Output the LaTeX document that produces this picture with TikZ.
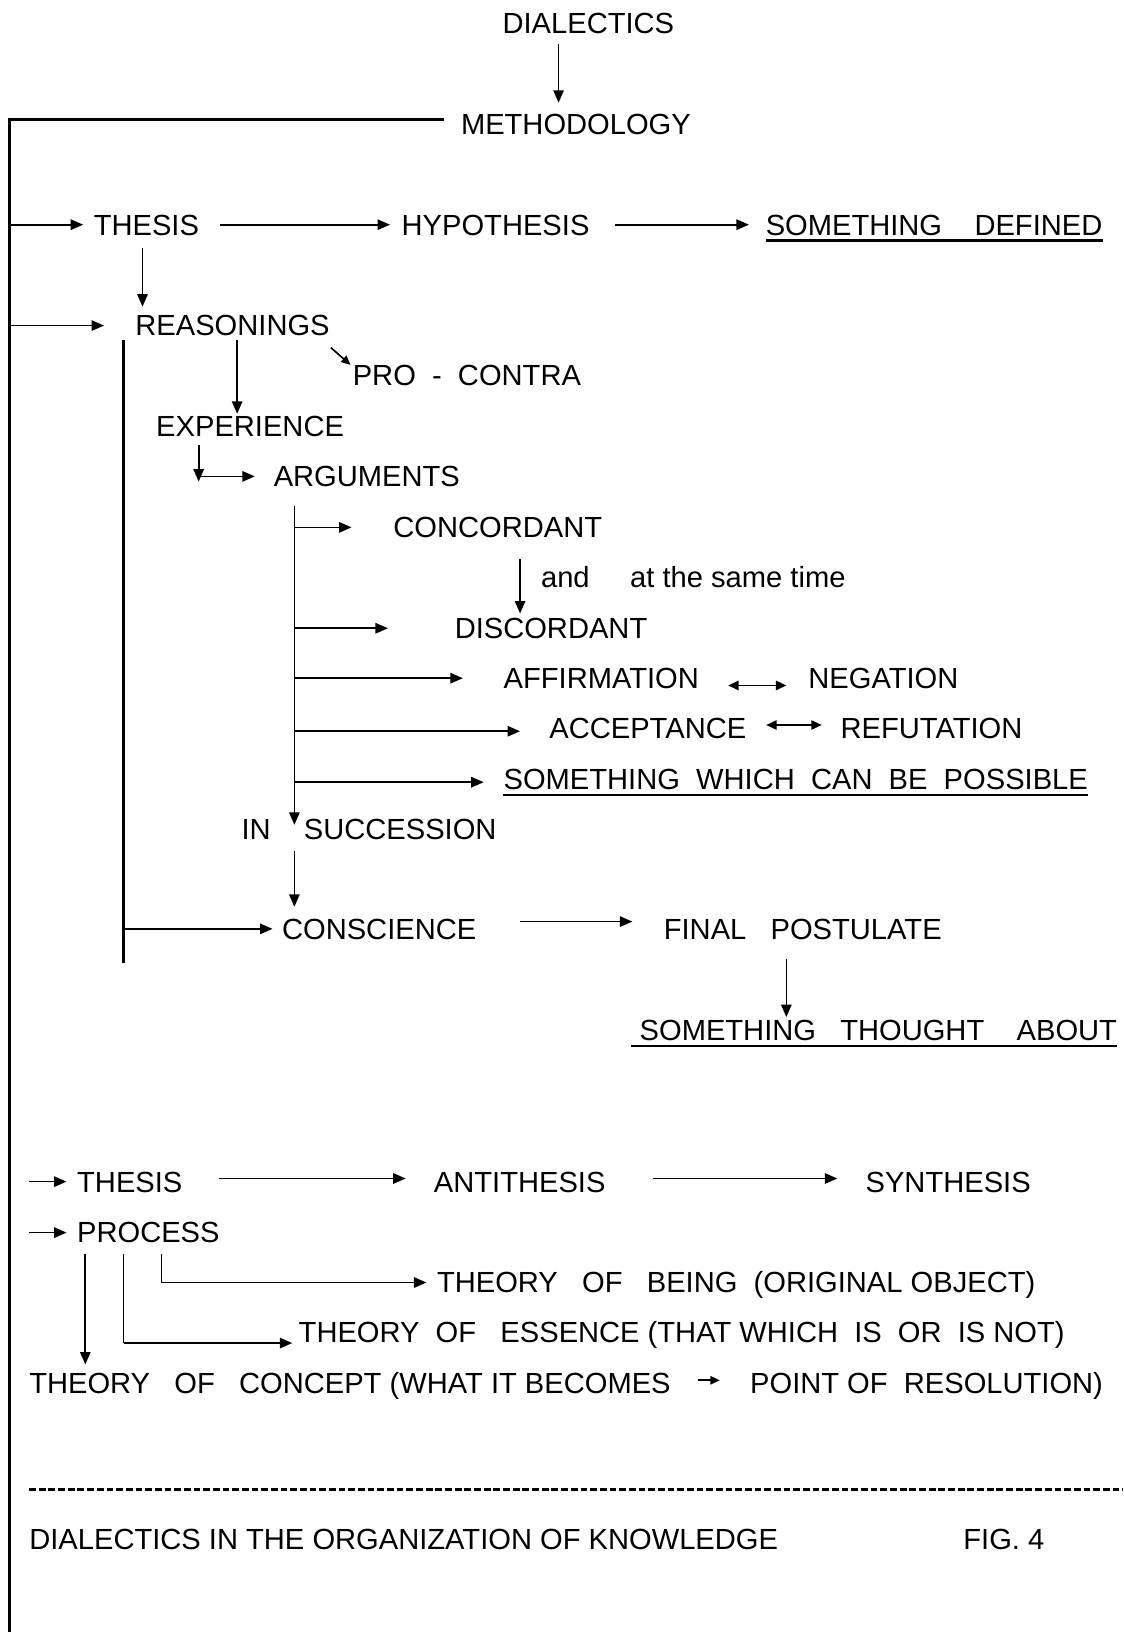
\documentclass[tikz,border=0pt]{standalone}
\usepackage{fontspec}
\setmainfont{Liberation Sans}
\usetikzlibrary{arrows.meta}

\begin{document}
\begin{tikzpicture}[x=1pt,y=-1pt,
    txt/.style={anchor=base west,inner sep=0pt,text height=20pt,text depth=0pt,font=\fontsize{28}{34}\selectfont},
    arr/.style={-{Triangle[length=12pt,width=10pt]},line width=1.6pt},
    smallarr/.style={-{Triangle[length=9pt,width=8pt]},line width=1.6pt},
    dbl/.style={{Triangle[length=10pt,width=9pt]}-{Triangle[length=10pt,width=9pt]},line width=1.6pt},
    heavy/.style={line width=2.5pt},
    fine/.style={line width=1pt},
    uline/.style={line width=2pt}]
    \useasboundingbox (0,0) rectangle (1080,1569);

    \node[txt] (dial)     at (483,32)   {DIALECTICS};
    \node[txt] (meth)     at (443,129)  {METHODOLOGY};
    \node[txt] (thesis_1) at (90,226)   {THESIS};
    \node[txt] (hyp)      at (386,226)  {HYPOTHESIS};
    \node[txt] (defined)  at (736,226)  {SOMETHING~~~~DEFINED};
    \node[txt] (reas)     at (130,323)  {REASONINGS};
    \node[txt] (pro)      at (339,371)  {PRO~~-~~CONTRA};
    \node[txt] (exper)    at (150,420)  {EXPERIENCE};
    \node[txt] (args)     at (263,468)  {ARGUMENTS};
    \node[txt] (concord)  at (378,517)  {CONCORDANT};
    \node[txt] (andtime)  at (520,565)  {and\hspace*{39pt}at the same time};
    \node[txt] (discord)  at (437,614)  {DISCORDANT};
    \node[txt] (affirm)   at (484,662)  {AFFIRMATION};
    \node[txt] (negat)    at (777,662)  {NEGATION};
    \node[txt] (accept)   at (528,710)  {ACCEPTANCE};
    \node[txt] (refut)    at (808,710)  {REFUTATION};
    \node[txt] (possible) at (484,759)  {SOMETHING~~WHICH~~CAN~~BE~~POSSIBLE};
    \node[txt] (in)       at (232,807)  {IN};
    \node[txt] (succ)     at (292,807)  {SUCCESSION};
    \node[txt] (consc)    at (271,903)  {CONSCIENCE};
    \node[txt] (postul)   at (638,903)  {FINAL~~~POSTULATE};
    \node[txt] (thought)  at (607,1000) {~SOMETHING~~~THOUGHT~~~~ABOUT};
    \node[txt] (thesis_2) at (74,1146)  {THESIS};
    \node[txt] (anti)     at (417,1146) {ANTITHESIS};
    \node[txt] (synth)    at (832,1146) {SYNTHESIS};
    \node[txt] (process)  at (74,1195)  {PROCESS};
    \node[txt] (being)    at (420,1243) {THEORY~~~OF~~~BEING~~(ORIGINAL OBJECT)};
    \node[txt] (essence)  at (287,1291) {THEORY~~OF~~~ESSENCE (THAT WHICH~~IS~~OR~~IS NOT)};
    \node[txt] (concept)  at (28,1340)  {THEORY~~~OF~~~CONCEPT (WHAT IT BECOMES};
    \node[txt] (resol)    at (721,1340) {POINT OF~~RESOLUTION)};
    \node[txt] (caption)  at (28,1490)  {DIALECTICS IN THE ORGANIZATION OF KNOWLEDGE};
    \node[txt] (fig)      at (926,1490) {FIG. 4};

    \coordinate (corner)    at (9,115);
    \coordinate (spine_end) at (9,1569);
    \coordinate (stem_top)  at (119,327);
    \coordinate (stem_end)  at (119,926);
    \coordinate (exp_knee)  at (191,463);
    \coordinate (arg_top)   at (283,486);
    \coordinate (arg_end)   at (283,793);
    \coordinate (succ_top)  at (283,818);
    \coordinate (rule_l)    at (28,1432);
    \coordinate (rule_r)    at (1080,1432);

    \draw[heavy] ([xshift=-16pt,yshift=4pt]meth.west) -- (corner) -- (spine_end);
    \draw[heavy] (stem_top) -- (stem_end);

    \path[arr]
        ([yshift=-10pt]dial.south -| 537,0) edge ([yshift=10pt]meth.north -| 537,0)
        (corner |- thesis_1.west) edge ([xshift=-10pt]thesis_1.west)
        ([xshift=20pt]thesis_1.east) edge ([xshift=-11pt]hyp.west)
        ([xshift=24pt]hyp.east) edge ([xshift=-16pt]defined.west)
        ([xshift=47pt,yshift=-12pt]thesis_1.south west) edge ([xshift=7pt,yshift=8pt]reas.north west)
        (corner |- reas.west) edge ([xshift=-30pt]reas.west)
        ([xshift=98pt,yshift=-4pt]reas.south west) edge ([xshift=78pt,yshift=2pt]exper.north west)
        ([xshift=41pt,yshift=-8pt]exper.south west) edge (exp_knee)
        (exp_knee |- args.west) edge ([xshift=-18pt]args.west)
        (arg_top) edge (arg_end)
        (arg_top |- concord.west) edge ([xshift=-40pt]concord.west)
        ([xshift=122pt,yshift=-20pt]concord.south west) edge ([xshift=63pt,yshift=4pt]discord.north west)
        (arg_top |- discord.west) edge ([xshift=-64pt]discord.west)
        (arg_top |- affirm.west) edge ([xshift=-39pt]affirm.west)
        ([yshift=-3pt]arg_top |- accept.west) edge ([xshift=-28pt,yshift=-3pt]accept.west)
        ([yshift=-3pt]arg_top |- possible.west) edge ([xshift=-19pt,yshift=-3pt]possible.west)
        (succ_top) edge ([yshift=11pt]succ_top |- consc.north)
        (stem_top |- consc.west) edge ([xshift=-9pt]consc.west)
        ([xshift=42pt,yshift=7pt]consc.east) edge ([xshift=-30pt,yshift=7pt]postul.west)
        ([xshift=118pt,yshift=-19pt]postul.south west) edge ([xshift=149pt,yshift=2pt]thought.north west)
        ([xshift=-46pt]thesis_2.west) edge ([xshift=-10pt]thesis_2.west)
        ([xshift=35pt,yshift=3pt]thesis_2.east) edge ([xshift=-27pt,yshift=3pt]anti.west)
        ([xshift=45pt,yshift=3pt]anti.east) edge ([xshift=-27pt,yshift=3pt]synth.west)
        ([xshift=-46pt]process.west) edge ([xshift=-10pt]process.west)
        ([xshift=8pt,yshift=-10pt]process.south west) edge ([xshift=54pt,yshift=8pt]concept.north west);

    \draw[smallarr] ([xshift=1pt,yshift=-11pt]reas.south east) -- ([xshift=-2pt]pro.north west);
    \draw[smallarr] ([xshift=26pt,yshift=3pt]concept.east) -- ([xshift=-29pt,yshift=3pt]resol.west);
    \draw[dbl] ([xshift=28pt,yshift=-7pt]affirm.east) -- ([xshift=-21pt,yshift=-7pt]negat.west);
    \draw[dbl] ([xshift=19pt,yshift=3pt]accept.east) -- ([xshift=-18pt,yshift=3pt]refut.west);

    \draw[fine] ([xshift=45pt,yshift=-10pt]process.south west) -- ([xshift=45pt]process.south west |- essence.south);
    \draw[arr] ([xshift=45pt]process.south west |- essence.south) -- ([xshift=-6pt]essence.south west);
    \draw[fine] ([xshift=81pt,yshift=-10pt]process.south west) -- ([xshift=81pt]process.south west |- being.west);
    \draw[arr] ([xshift=81pt]process.south west |- being.west) -- ([xshift=-10pt]being.west);

    \draw[uline] ([yshift=-5pt]defined.south west) -- ([yshift=-5pt]defined.south east);
    \draw[uline] ([yshift=-5pt]possible.south west) -- ([yshift=-5pt]possible.south east);
    \draw[uline] ([yshift=-5pt]thought.south west) -- ([yshift=-5pt]thought.south east);

    \draw[line width=2.2pt,dash pattern=on 6.5pt off 2.8pt] (rule_l) -- (rule_r);
\end{tikzpicture}
\end{document}
